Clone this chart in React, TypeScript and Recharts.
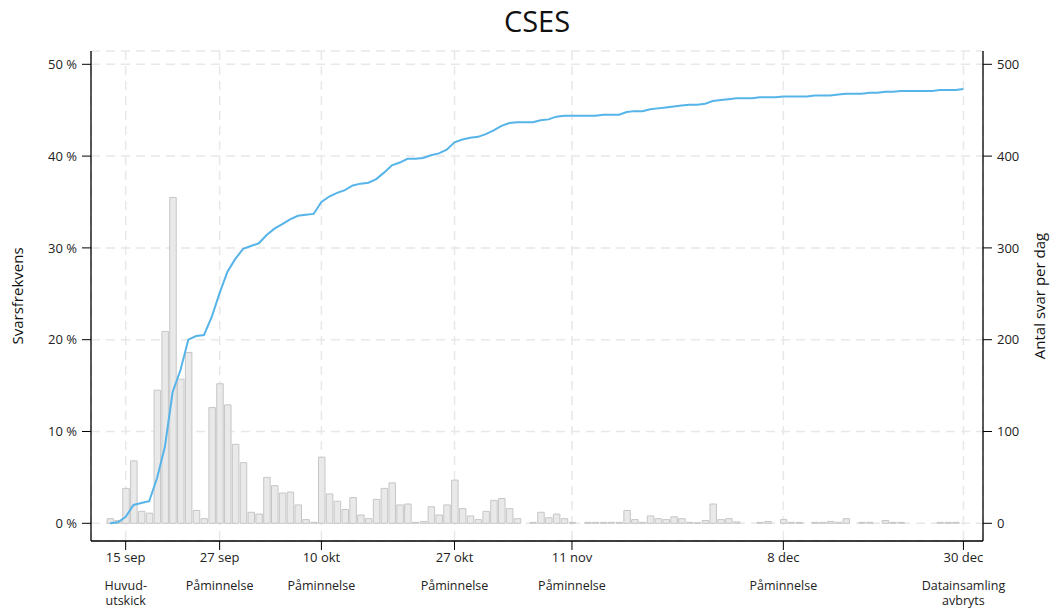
import React from 'react';
import { ComposedChart, Bar, Line, XAxis, YAxis, CartesianGrid } from 'recharts';

// Day index 0 = 15 sep
const startDay = -2;

// Responses per day (right axis)
const dailyResponses = [
  5, 3, 38, 68, 13, 11, 145, 209, 355, 157, 186, 14, // -2..9
  5, 126, 152, 129, 86, 66, 12, 10, 50, 41, // 10..19
  33, 34, 20, 4, 1, 72, 32, 24, 15, 28, // 20..29
  9, 5, 26, 38, 44, 20, 21, 1, 2, 18, // 30..39
  9, 20, 47, 16, 8, 4, 13, 25, 27, 16, // 40..49
  5, 0, 1, 12, 6, 10, 5, 1, 0, 1, // 50..59
  1, 1, 1, 1, 14, 4, 1, 8, 5, 4, // 60..69
  7, 5, 1, 0.5, 3, 21, 4, 5, 1.5, 0, // 70..79
  0, 1, 2, 0, 4, 1, 1, 0, 1, 1, // 80..89
  2, 1, 5, 0, 1, 1, 0, 3, 1, 1, // 90..99
  0, 0, 0, 0, 1, 1, 1, 0, // 100..107
];

// Cumulative response rate in % (left axis)
const cumulativeRate = [
  0, 0.1, 0.7, 2.0, 2.2, 2.4, 4.9, 8.3, 14.3, 16.7, 20.0, 20.4, // -2..9
  20.5, 22.5, 25.1, 27.4, 28.8, 29.9, 30.2, 30.5, 31.4, 32.1, // 10..19
  32.6, 33.1, 33.5, 33.6, 33.7, 35.0, 35.6, 36.0, 36.3, 36.8, // 20..29
  37.0, 37.1, 37.5, 38.2, 39.0, 39.3, 39.7, 39.7, 39.8, 40.1, // 30..39
  40.3, 40.7, 41.5, 41.8, 42.0, 42.1, 42.4, 42.8, 43.3, 43.6, // 40..49
  43.7, 43.7, 43.7, 43.9, 44.0, 44.3, 44.4, 44.4, 44.4, 44.4, // 50..59
  44.4, 44.5, 44.5, 44.5, 44.8, 44.9, 44.9, 45.1, 45.2, 45.3, // 60..69
  45.4, 45.5, 45.6, 45.6, 45.7, 46.0, 46.1, 46.2, 46.3, 46.3, // 70..79
  46.3, 46.4, 46.4, 46.4, 46.5, 46.5, 46.5, 46.5, 46.6, 46.6, // 80..89
  46.6, 46.7, 46.8, 46.8, 46.8, 46.9, 46.9, 47.0, 47.0, 47.1, // 90..99
  47.1, 47.1, 47.1, 47.1, 47.2, 47.2, 47.2, 47.3, // 100..107
];

const tickDays = [0, 12, 25, 42, 57, 84, 107];
const tickLabels = ['15 sep', '27 sep', '10 okt', '27 okt', '11 nov', '8 dec', '30 dec'];
const tickNotes = [
  ['Huvud-', 'utskick'],
  ['Påminnelse'],
  ['Påminnelse'],
  ['Påminnelse'],
  ['Påminnelse'],
  ['Påminnelse'],
  ['Datainsamling', 'avbryts'],
];

const leftTicks = [0, 10, 20, 30, 40, 50];
const rightTicks = [0, 100, 200, 300, 400, 500];

const data = dailyResponses.map((n, i) => ({
  day: startDay + i,
  responses: n,
  rate: cumulativeRate[i],
}));

const FONT = '"Open Sans", "DejaVu Sans", sans-serif';

const XTick = (props: any) => {
  const { x, y, payload } = props;
  const i = tickDays.indexOf(payload.value);
  if (i < 0) return null;
  return (
    <g transform={`translate(${x},${y})`}>
      <text x={0} y={0} dy={10} textAnchor="middle" fontSize={13} fill="#222" fontFamily={FONT}>
        {tickLabels[i]}
      </text>
      {tickNotes[i].map((line, k) => (
        <text key={k} x={0} y={0} dy={38 + k * 15} textAnchor="middle" fontSize={12.5} fill="#222" fontFamily={FONT}>
          {line}
        </text>
      ))}
    </g>
  );
};

export default function App() {
  return (
    <div style={{ position: 'absolute', left: 0, top: 0, width: 1053, height: 613, background: '#fff' }}>
      <ComposedChart
        width={1053}
        height={613}
        data={data}
        margin={{ top: 51, right: 0, bottom: 0, left: 0 }}
      >
        <CartesianGrid
          yAxisId="left"
          stroke="#e8e8e8"
          strokeWidth={1.5}
          strokeDasharray="9 6"
        />
        <XAxis
          dataKey="day"
          type="number"
          domain={[-4.43, 109.5]}
          ticks={tickDays}
          allowDataOverflow
          height={72}
          tickSize={9}
          tickMargin={2}
          axisLine={{ stroke: '#000', strokeWidth: 1.3 }}
          tickLine={{ stroke: '#000', strokeWidth: 1 }}
          tick={<XTick />}
          interval={0}
        />
        <YAxis
          yAxisId="left"
          orientation="left"
          width={91}
          domain={[-1.93, 51.45]}
          ticks={leftTicks}
          allowDataOverflow
          tickSize={9}
          tickMargin={5}
          tickFormatter={(v: number) => `${v} %`}
          axisLine={{ stroke: '#000', strokeWidth: 1.3 }}
          tickLine={{ stroke: '#000', strokeWidth: 1 }}
          tick={{ fontSize: 13, fill: '#222', fontFamily: FONT }}
        />
        <YAxis
          yAxisId="right"
          orientation="right"
          width={70}
          domain={[-19.3, 514.5]}
          ticks={rightTicks}
          allowDataOverflow
          tickSize={9}
          tickMargin={5}
          axisLine={{ stroke: '#000', strokeWidth: 1.3 }}
          tickLine={{ stroke: '#000', strokeWidth: 1 }}
          tick={{ fontSize: 13, fill: '#222', fontFamily: FONT }}
        />
        <Bar
          yAxisId="right"
          dataKey="responses"
          barSize={6.5}
          fill="#e9e9e9"
          stroke="#c6c6c6"
          strokeWidth={1}
          isAnimationActive={false}
        />
        <Line
          yAxisId="left"
          dataKey="rate"
          type="linear"
          stroke="#56B4E9"
          strokeWidth={2}
          dot={false}
          activeDot={false}
          isAnimationActive={false}
        />
      </ComposedChart>
      <svg
        width={1053}
        height={613}
        style={{ position: 'absolute', left: 0, top: 0, pointerEvents: 'none' }}
      >
        <text x={537} y={32} textAnchor="middle" fontSize={29} fill="#111" fontFamily={FONT}>
          CSES
        </text>
        <text
          x={0}
          y={0}
          transform="translate(23,296) rotate(-90)"
          textAnchor="middle"
          fontSize={15}
          fill="#111"
          fontFamily={FONT}
        >
          Svarsfrekvens
        </text>
        <text
          x={0}
          y={0}
          transform="translate(1045,296) rotate(-90)"
          textAnchor="middle"
          fontSize={15}
          fill="#111"
          fontFamily={FONT}
        >
          Antal svar per dag
        </text>
      </svg>
    </div>
  );
}
